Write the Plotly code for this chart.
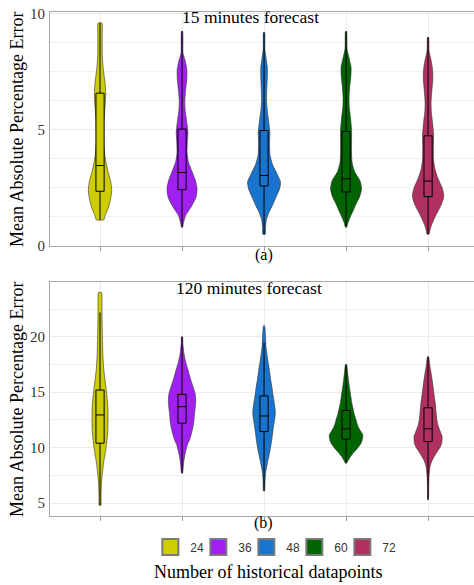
import plotly.graph_objects as go

groups = ["24", "36", "48", "60", "72"]
colors = ["#CDCD00", "#A020F0", "#1874CD", "#006400", "#B03060"]

# ---- 15 minutes forecast: violin profiles (value levels, relative density half-widths)
top_24_v = [1.12, 1.3, 1.6, 2.0, 2.4, 2.8, 3.2, 3.7, 4.2, 4.8, 5.4, 6.0, 6.6, 7.1, 7.6, 8.1, 8.6, 9.2, 9.6]
top_24_w = [3.7, 5.0, 8.0, 10.5, 11.7, 10.5, 8.0, 5.5, 4.0, 3.3, 3.8, 5.0, 5.7, 4.8, 3.3, 2.4, 2.2, 2.2, 2.0]
top_36_v = [0.8, 1.0, 1.3, 1.7, 2.1, 2.45, 2.8, 3.2, 3.6, 4.0, 4.5, 4.9, 5.4, 5.9, 6.3, 6.8, 7.2, 7.6, 8.0, 8.3, 9.25]
top_36_w = [0.5, 1.5, 3.5, 9.5, 14.0, 15.0, 13.5, 10.0, 6.5, 5.0, 5.3, 5.8, 4.5, 3.0, 2.8, 3.8, 4.8, 4.8, 3.0, 1.0, 0.5]
top_48_v = [0.5, 0.8, 1.15, 1.45, 1.75, 2.1, 2.45, 2.75, 3.1, 3.5, 3.9, 4.4, 4.9, 5.4, 5.9, 6.3, 6.8, 7.3, 7.7, 8.1, 8.5, 9.2]
top_48_w = [1.2, 1.5, 2.5, 5.0, 8.5, 12.0, 15.5, 16.5, 13.0, 8.5, 6.0, 5.5, 5.8, 4.5, 3.0, 2.5, 2.8, 3.3, 3.3, 2.0, 0.8, 0.5]
top_60_v = [0.8, 1.0, 1.2, 1.5, 1.8, 2.1, 2.45, 2.8, 3.2, 3.6, 4.0, 4.5, 5.0, 5.5, 6.0, 6.4, 6.9, 7.3, 7.7, 8.1, 8.5, 9.24]
top_60_w = [0.5, 2.0, 3.8, 7.0, 10.0, 13.5, 15.5, 14.0, 8.5, 6.0, 5.5, 5.5, 5.5, 4.5, 3.2, 3.0, 3.8, 4.8, 5.0, 3.0, 1.0, 0.5]
top_72_v = [0.5, 0.7, 0.9, 1.2, 1.5, 1.8, 2.15, 2.5, 2.9, 3.3, 3.7, 4.2, 4.8, 5.3, 5.8, 6.2, 6.7, 7.2, 7.6, 8.0, 8.4, 8.99]
top_72_w = [1.0, 2.0, 3.5, 6.5, 10.0, 13.5, 15.7, 14.0, 10.0, 7.0, 5.5, 5.3, 5.5, 4.5, 3.2, 3.0, 3.8, 4.8, 4.5, 3.0, 1.0, 0.5]

# box statistics, 15 minutes
top_lo = [1.12, 0.8, 0.5, 0.8, 0.5]
top_q1 = [2.35, 2.42, 2.58, 2.32, 2.12]
top_med = [3.46, 3.16, 3.03, 2.89, 2.79]
top_q3 = [6.58, 5.03, 4.97, 4.93, 4.74]
top_hi = [9.6, 9.25, 9.2, 9.24, 8.99]

# ---- 120 minutes forecast
bot_24_v = [4.8, 5.5, 6.5, 7.4, 8.0, 8.6, 9.4, 10.1, 10.9, 11.6, 12.4, 13.4, 14.3, 15.2, 16.1, 17.0, 17.8, 18.5, 19.3, 20.0, 21.0, 22.1, 23.0, 24.0]
bot_24_w = [0.8, 1.0, 1.3, 2.0, 2.8, 3.5, 5.0, 6.2, 7.2, 7.8, 8.0, 8.0, 7.3, 6.2, 5.0, 3.8, 3.2, 2.8, 2.6, 2.4, 2.2, 2.0, 2.0, 1.5]
bot_36_v = [7.7, 8.3, 8.9, 9.4, 9.8, 10.3, 10.7, 11.3, 11.9, 12.5, 13.1, 13.7, 14.3, 14.9, 15.5, 16.2, 17.0, 17.6, 18.2, 18.8, 19.4, 20.0]
bot_36_w = [0.5, 1.2, 2.0, 3.0, 4.0, 5.5, 7.5, 9.5, 11.0, 12.0, 12.5, 13.3, 13.7, 13.0, 11.0, 8.5, 6.0, 4.0, 2.5, 1.5, 0.8, 0.5]
bot_48_v = [6.1, 7.0, 7.7, 8.6, 9.3, 10.1, 10.9, 11.6, 12.4, 13.1, 13.9, 14.6, 15.4, 16.1, 16.9, 17.6, 18.4, 19.1, 20.0, 21.0]
bot_48_w = [0.5, 1.0, 1.5, 3.3, 5.0, 6.7, 8.0, 9.0, 10.3, 11.3, 10.5, 9.2, 8.0, 6.7, 5.5, 4.3, 3.0, 2.0, 1.5, 0.5]
bot_60_v = [8.6, 8.9, 9.2, 9.5, 9.9, 10.4, 10.8, 11.15, 11.5, 11.9, 12.5, 13.1, 13.6, 14.0, 14.8, 15.5, 16.2, 17.0, 17.5]
bot_60_w = [0.5, 2.5, 4.5, 7.0, 11.0, 15.0, 16.5, 16.7, 14.5, 12.0, 10.0, 8.0, 6.8, 5.8, 4.5, 3.3, 2.3, 1.3, 0.5]
bot_72_v = [5.3, 6.2, 7.0, 7.4, 8.3, 8.8, 9.2, 9.7, 10.1, 10.5, 11.0, 11.5, 12.0, 12.5, 13.2, 14.0, 14.8, 15.5, 16.3, 17.0, 17.6, 18.2]
bot_72_w = [0.3, 0.6, 0.8, 1.0, 2.0, 3.8, 6.2, 9.5, 12.5, 13.8, 14.0, 12.0, 10.0, 8.8, 8.0, 7.2, 6.0, 5.0, 3.8, 2.5, 1.5, 0.5]

bot_lo = [4.8, 7.7, 6.1, 8.6, 5.3]
bot_q1 = [10.4, 12.2, 11.45, 10.76, 10.55]
bot_med = [12.95, 13.7, 12.86, 11.7, 11.7]
bot_q3 = [15.2, 14.8, 14.67, 13.35, 13.6]
bot_hi = [22.2, 20.0, 19.5, 17.5, 18.2]

top_profiles = [(top_24_v, top_24_w), (top_36_v, top_36_w), (top_48_v, top_48_w),
                (top_60_v, top_60_w), (top_72_v, top_72_w)]
bot_profiles = [(bot_24_v, bot_24_w), (bot_36_v, bot_36_w), (bot_48_v, bot_48_w),
                (bot_60_v, bot_60_w), (bot_72_v, bot_72_w)]

WSCALE = 1 / 82.0   # density units -> category units
SERIF = "Liberation Serif"
XRANGE = [0.39, 5.56]
TOP_RANGE = [-0.01, 10.08]
BOT_RANGE = [3.83, 24.95]

fig = go.Figure()


def add_panel(profiles, lo, q1, med, q3, hi, xa, ya, xo, yo):
    for i, (vals, dens) in enumerate(profiles):
        c = i + 1
        xs = [c + d * WSCALE for d in dens] + [c - d * WSCALE for d in reversed(dens)]
        ys = list(vals) + list(reversed(vals))
        xs.append(xs[0])
        ys.append(ys[0])
        fig.add_trace(go.Scatter(
            x=xs, y=ys, mode="lines", fill="toself", fillcolor=colors[i],
            line=dict(color="rgba(50,50,50,0.85)", width=0.7, shape="spline", smoothing=0.6),
            xaxis=xa, yaxis=ya, showlegend=False, hoverinfo="skip"))
    for i in range(len(groups)):
        fig.add_trace(go.Box(
            x=[i + 1], q1=[q1[i]], median=[med[i]], q3=[q3[i]],
            lowerfence=[lo[i]], upperfence=[hi[i]],
            width=0.1, whiskerwidth=0, fillcolor=colors[i],
            line=dict(color="black", width=1), name=groups[i],
            showlegend=False, xaxis=xo, yaxis=yo, boxpoints=False, hoverinfo="skip"))


add_panel(top_profiles, top_lo, top_q1, top_med, top_q3, top_hi, "x", "y", "x3", "y3")
add_panel(bot_profiles, bot_lo, bot_q1, bot_med, bot_q3, bot_hi, "x2", "y2", "x4", "y4")

# legend keys
for i, g in enumerate(groups):
    fig.add_trace(go.Scatter(
        x=[None], y=[None], mode="markers", name=g, xaxis="x2", yaxis="y2",
        legendwidth=(16 if i == len(groups) - 1 else 3),
        marker=dict(symbol="square", size=16, color=colors[i],
                    line=dict(color="#7a7a7a", width=2))))

xcommon = dict(range=XRANGE, tickvals=[1, 2, 3, 4, 5], showticklabels=False,
               ticks="outside", ticklen=4, tickcolor="#9a9a9a", showgrid=True,
               gridcolor="#ebebeb", showline=True, linecolor="#a8a8a8", linewidth=1,
               mirror=True, zeroline=False)
ycommon = dict(ticks="", showgrid=True, ticklabelstandoff=1,
               gridcolor="#ebebeb", showline=True, linecolor="#a8a8a8", linewidth=1,
               mirror=False, zeroline=False,
               tickfont=dict(family=SERIF, size=15, color="#333333"))
hidden = dict(visible=False, showgrid=False, zeroline=False)

fig.update_layout(
    width=474, height=585,
    margin=dict(l=50, r=0, t=12, b=69),
    paper_bgcolor="white", plot_bgcolor="white",
    xaxis=dict(domain=[0, 1], anchor="y", **xcommon),
    xaxis2=dict(domain=[0, 1], anchor="y2", **xcommon),
    yaxis=dict(domain=[0.5357, 1.0], anchor="x", range=TOP_RANGE,
               tickvals=[0, 5, 10], ticktext=["0", "5", "10"],
               minor=dict(tickmode="linear", tick0=0, dtick=1.25, showgrid=True,
                          gridcolor="#f0f0f0"),
               **ycommon),
    yaxis2=dict(domain=[0.0, 0.4643], anchor="x2", range=BOT_RANGE,
                tickvals=[5, 10, 15, 20], ticktext=["5", "10", "15", "20"],
                minor=dict(tickmode="linear", tick0=0, dtick=2.5, showgrid=True,
                           gridcolor="#f0f0f0"),
                **ycommon),
    xaxis3=dict(overlaying="x", anchor="y3", range=XRANGE, **hidden),
    yaxis3=dict(overlaying="y", anchor="x3", range=TOP_RANGE, **hidden),
    xaxis4=dict(overlaying="x2", anchor="y4", range=XRANGE, **hidden),
    yaxis4=dict(overlaying="y2", anchor="x4", range=BOT_RANGE, **hidden),
    showlegend=True,
    legend=dict(orientation="h", x=0.535, xanchor="center", y=-0.0615, yanchor="middle",
                entrywidth=3, entrywidthmode="pixels",
                font=dict(family="Liberation Sans", size=12, color="#333333"),
                bgcolor="rgba(0,0,0,0)", traceorder="normal"),
)

ann = [
    dict(text="15 minutes forecast", x=0.4717, y=0.990, xanchor="center", yanchor="middle",
         font=dict(family=SERIF, size=17.5, color="black")),
    dict(text="120 minutes forecast", x=0.4693, y=0.4524, xanchor="center", yanchor="middle",
         font=dict(family=SERIF, size=17.5, color="black")),
    dict(text="(a)", x=0.5047, y=0.518, xanchor="center", yanchor="middle",
         font=dict(family=SERIF, size=16, color="black")),
    dict(text="(b)", x=0.5024, y=-0.0139, xanchor="center", yanchor="middle",
         font=dict(family=SERIF, size=16, color="black")),
    dict(text="Mean Absolute Percentage Error", x=-0.078, y=0.7679, textangle=-90,
         xanchor="center", yanchor="middle", font=dict(family=SERIF, size=18, color="black")),
    dict(text="Mean Absolute Percentage Error", x=-0.078, y=0.2321, textangle=-90,
         xanchor="center", yanchor="middle", font=dict(family=SERIF, size=18, color="black")),
    dict(text="Number of historical datapoints", x=0.514, y=-0.111, xanchor="center",
         yanchor="middle", font=dict(family=SERIF, size=18, color="black")),
]
for a in ann:
    a.update(xref="paper", yref="paper", showarrow=False)
fig.update_layout(annotations=ann)

fig.write_html("out.html", config={"displayModeBar": False},
               post_script="document.body.style.margin='0';"
                           "document.documentElement.style.overflow='hidden';")
